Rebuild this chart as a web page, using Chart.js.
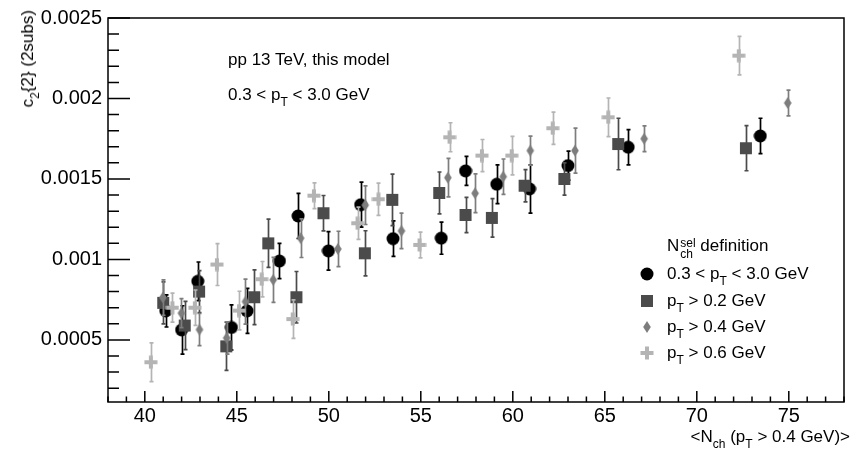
<!DOCTYPE html>
<html>
<head>
<meta charset="utf-8">
<script src="https://cdn.jsdelivr.net/npm/chart.js@4.4.1/dist/chart.umd.min.js"></script>
<style>
  body { margin: 0; background: #fff; }
  #wrap { position: relative; width: 852px; height: 453px; font-family: "Liberation Sans", Arial, sans-serif; color: #000; }
  .txt { position: absolute; font-size: 17px; line-height: 20px; white-space: nowrap; }
  .txt sub { font-size: 12px; vertical-align: -6px; line-height: 0; }
  .ss { display: inline-block; vertical-align: -7px; font-size: 12px; line-height: 11px; margin-left: 1px; }
  .ss span { display: block; }
  .mk { position: absolute; }
</style>
</head>
<body>
<div id="wrap">
  <canvas id="c2chart" width="852" height="453"></canvas>
  <div class="txt" style="left:228px; top:50px;">pp 13 TeV, this model</div>
  <div class="txt" style="left:228px; top:85px;">0.3 &lt; p<sub>T</sub> &lt; 3.0 GeV</div>

  <div class="txt" style="left:667px; top:236px;">N<span class="ss"><span>sel</span><span>ch</span></span> definition</div>
  <div class="txt" id="leg0" style="left:667px; top:264px;">0.3 &lt; p<sub>T</sub> &lt; 3.0 GeV</div>
  <div class="txt" id="leg1" style="left:667px; top:291px;">p<sub>T</sub> &gt; 0.2 GeV</div>
  <div class="txt" id="leg2" style="left:667px; top:317px;">p<sub>T</sub> &gt; 0.4 GeV</div>
  <div class="txt" id="leg3" style="left:667px; top:343px;">p<sub>T</sub> &gt; 0.6 GeV</div>

  <div class="txt" style="right:2px; top:427px;">&lt;N<sub>ch</sub> (p<sub>T</sub> &gt; 0.4 GeV)&gt;</div>
  <div class="txt" style="left:28px; top:10px; transform-origin:0 0; transform:rotate(-90deg) translate(-100%,-50%);">c<sub>2</sub>{2} (2subs)</div>
</div>
<script>
// axis ticks
const xTickValues = [40, 45, 50, 55, 60, 65, 70, 75];
const yTickValues = [0.0005, 0.001, 0.0015, 0.002, 0.0025];
const yTickLabels = ['0.0005', '0.001', '0.0015', '0.002', '0.0025'];

const seriesNames = ['0.3 < pT < 3.0 GeV', 'pT > 0.2 GeV', 'pT > 0.4 GeV', 'pT > 0.6 GeV'];

// 0.3 < pT < 3.0 GeV (black circles)
const nchA = [41.14, 42.0, 42.88, 44.71, 45.56, 47.32, 48.33, 49.98, 51.73, 53.49, 56.11, 57.43, 59.13, 60.91, 63.0, 66.27, 73.45];
const c2A  = [0.00068, 0.000562, 0.000864, 0.000577, 0.00068, 0.00099, 0.00127, 0.001053, 0.00134, 0.001129, 0.001132, 0.00155, 0.001467, 0.001438, 0.001583, 0.001697, 0.001767];
const errA = [0.0001, 0.00015, 0.00012, 0.00014, 0.00014, 0.00011, 0.00014, 0.00012, 0.00014, 0.00011, 0.0001, 0.00009, 0.00012, 0.00015, 0.00009, 0.00011, 0.00011];

// pT > 0.2 GeV (dark squares)
const nchB = [41.0, 42.17, 42.95, 44.43, 45.95, 46.71, 48.24, 49.71, 51.96, 53.45, 56.0, 57.43, 58.86, 60.64, 62.8, 65.73, 72.67];
const c2B  = [0.00073, 0.000589, 0.0008, 0.00046, 0.000765, 0.0011, 0.000765, 0.001287, 0.001038, 0.00137, 0.001413, 0.001276, 0.001258, 0.001458, 0.0015, 0.001717, 0.001691];
const errB = [0.00013, 0.00015, 0.00013, 0.00015, 0.00017, 0.00015, 0.00016, 0.00011, 0.00014, 0.00016, 0.00013, 0.00011, 0.00012, 0.0001, 0.0001, 0.00016, 0.00014];

// pT > 0.4 GeV (grey diamonds)
const nchC = [40.98, 41.99, 42.97, 44.45, 45.47, 46.98, 48.47, 50.49, 51.98, 53.95, 56.47, 57.95, 59.48, 60.95, 63.38, 67.14, 74.94];
const c2C  = [0.000763, 0.000666, 0.000564, 0.000512, 0.000738, 0.000873, 0.001132, 0.001065, 0.001337, 0.001177, 0.001508, 0.001411, 0.001514, 0.001676, 0.001676, 0.00175, 0.001972];
const errC = [0.00011, 0.00009, 0.0001, 0.0001, 0.00014, 0.00014, 0.00012, 0.00011, 0.00012, 0.00011, 0.00012, 0.00012, 0.00011, 0.00009, 0.00014, 0.00008, 0.00008];

// pT > 0.6 GeV (light crosses)
const nchD = [40.33, 41.5, 42.72, 43.92, 45.12, 46.35, 48.04, 49.19, 51.56, 52.7, 54.93, 56.56, 58.32, 59.94, 62.17, 65.19, 72.28];
const c2D  = [0.000361, 0.0007, 0.0007, 0.000968, 0.000682, 0.000877, 0.000629, 0.001396, 0.001225, 0.001374, 0.00109, 0.001759, 0.001645, 0.001645, 0.001815, 0.001883, 0.002266];
const errD = [0.00012, 0.00009, 0.00011, 0.00013, 0.00012, 0.00011, 0.00012, 0.00008, 0.0001, 0.0001, 0.00008, 0.00009, 0.0001, 0.00012, 0.0001, 0.00012, 0.00012];

const colors = ['#000000', '#4b4b4b', '#7d7d7d', '#b4b4b4'];
const kinds = ['circle', 'square', 'diamond', 'cross'];

function makeMarker(kind, color) {
  const c = document.createElement('canvas');
  c.width = 14; c.height = 14;
  const g = c.getContext('2d');
  g.fillStyle = color;
  if (kind === 'circle') {
    g.beginPath(); g.arc(7, 7, 6.5, 0, 2 * Math.PI); g.fill();
  } else if (kind === 'square') {
    g.fillRect(1, 1, 12, 12);
  } else if (kind === 'diamond') {
    g.beginPath(); g.moveTo(7, 1); g.lineTo(10.8, 7); g.lineTo(7, 13); g.lineTo(3.2, 7); g.closePath(); g.fill();
  } else {
    g.fillRect(5, 0.5, 4, 13); g.fillRect(0.5, 5, 13, 4);
  }
  return c;
}

function pts(xs, ys) { return xs.map((x, i) => ({ x: x, y: ys[i] })); }

const allX = [nchA, nchB, nchC, nchD];
const allY = [c2A, c2B, c2C, c2D];
const allE = [errA, errB, errC, errD];

const datasets = seriesNames.map((name, k) => ({
  label: name,
  data: pts(allX[k], allY[k]),
  errors: allE[k],
  errColor: colors[k],
  pointStyle: makeMarker(kinds[k], colors[k]),
  pointRadius: 7,
  showLine: false,
  order: 4 - k
}));

// legend markers
for (let k = 0; k < 4; k++) {
  const m = makeMarker(kinds[k], colors[k]);
  m.className = 'mk';
  const row = document.getElementById('leg' + k);
  m.style.left = (647 - 7) + 'px';
  m.style.top = (parseInt(row.style.top) + 10 - 7) + 'px';
  document.getElementById('wrap').appendChild(m);
}

const errBars = {
  id: 'errBars',
  beforeDatasetDraw(chart, args) {
    const ds = chart.data.datasets[args.index];
    const xs = chart.scales.x, ys = chart.scales.y, ctx = chart.ctx;
    ctx.save();
    ctx.strokeStyle = ds.errColor;
    ctx.lineWidth = 1.7;
    ds.data.forEach((p, i) => {
      const px = Math.round(xs.getPixelForValue(p.x)) + 0.5;
      const top = ys.getPixelForValue(p.y + ds.errors[i]);
      const bot = ys.getPixelForValue(p.y - ds.errors[i]);
      ctx.beginPath();
      ctx.moveTo(px, top); ctx.lineTo(px, bot);
      ctx.moveTo(px - 2, top); ctx.lineTo(px + 2, top);
      ctx.moveTo(px - 2, bot); ctx.lineTo(px + 2, bot);
      ctx.stroke();
    });
    ctx.restore();
  }
};

const rootFrame = {
  id: 'rootFrame',
  afterDatasetsDraw(chart) {
    const { ctx, chartArea: a, scales: { x, y } } = chart;
    ctx.save();
    ctx.strokeStyle = '#000';
    ctx.lineWidth = 1.5;
    ctx.strokeRect(a.left, a.top, a.right - a.left, a.bottom - a.top);
    ctx.beginPath();
    for (let v = 38; v <= 78; v += 1) {
      const px = x.getPixelForValue(v);
      const len = (v % 5 === 0) ? 11 : 5.5;
      ctx.moveTo(px, a.bottom); ctx.lineTo(px, a.bottom - len);
    }
    for (let i = 2; i <= 25; i++) {
      const py = y.getPixelForValue(i * 0.0001);
      const len = (i % 5 === 0) ? 22 : 11;
      ctx.moveTo(a.left, py); ctx.lineTo(a.left + len, py);
    }
    ctx.stroke();
    ctx.restore();
  }
};

const tickFont = { family: 'Liberation Sans', size: 20 };

new Chart('c2chart', {
  type: 'scatter',
  data: { datasets: datasets },
  options: {
    responsive: false,
    animation: false,
    events: [],
    layout: { padding: { top: 17, right: 2, left: 0, bottom: 0 } },
    plugins: { legend: { display: false }, tooltip: { enabled: false } },
    scales: {
      x: {
        type: 'linear', min: 38, max: 78,
        grid: { display: false, drawTicks: false },
        border: { display: false },
        ticks: { font: tickFont, color: '#000', padding: 2, autoSkip: false, maxRotation: 0,
                 callback: (v) => String(v) },
        afterBuildTicks: (s) => { s.ticks = xTickValues.map(v => ({ value: v })); },
        afterFit: (s) => { s.height = 51; }
      },
      y: {
        type: 'linear', min: 0.000114, max: 0.0025,
        grid: { display: false, drawTicks: false },
        border: { display: false },
        ticks: { font: tickFont, color: '#000', padding: 6, autoSkip: false,
                 callback: (v, i) => yTickLabels[i] },
        afterBuildTicks: (s) => { s.ticks = yTickValues.map(v => ({ value: v })); },
        afterFit: (s) => { s.width = 108; }
      }
    }
  },
  plugins: [errBars, rootFrame]
});
</script>
</body>
</html>
